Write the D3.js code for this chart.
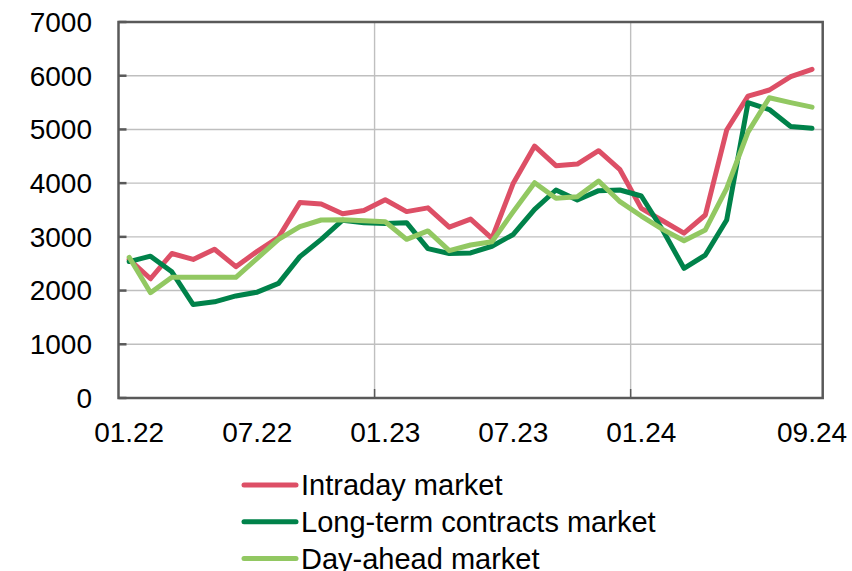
<!DOCTYPE html>
<html lang="en">
<head>
<meta charset="utf-8">
<title>Electricity prices by market</title>
<script src="https://d3js.org/d3.v7.min.js"></script>
<style>
	body {
		margin: 0;
		background: #fff;
		font-family: 'Liberation Sans', Arial, sans-serif;
	}
	.ticklabel {
		font-size: 28px;
		fill: #000;
	}
	.legendlabel {
		font-size: 29px;
		fill: #000;
	}
</style>
</head>
<body>
<div id="my_dataviz"></div>

<script>

// months 01.22 .. 09.24
var months = ["01.22","02.22","03.22","04.22","05.22","06.22","07.22","08.22","09.22","10.22","11.22","12.22",
              "01.23","02.23","03.23","04.23","05.23","06.23","07.23","08.23","09.23","10.23","11.23","12.23",
              "01.24","02.24","03.24","04.24","05.24","06.24","07.24","08.24","09.24"];

var xLabels = ["01.22", "07.22", "01.23", "07.23", "01.24", "09.24"];
var yTicks = [0, 1000, 2000, 3000, 4000, 5000, 6000, 7000];

var intraday = [2580, 2220, 2690, 2580, 2770, 2445, 2730, 2990, 3640, 3610, 3430, 3490,
                3690, 3470, 3540, 3180, 3330, 2970, 4000, 4690, 4325, 4356, 4604, 4250,
                3530, 3300, 3070, 3407, 4989, 5620, 5734, 5982, 6119];

var longTerm = [2540, 2640, 2350, 1740, 1790, 1900, 1970, 2134, 2631, 2954, 3310, 3264,
                3250, 3264, 2780, 2690, 2700, 2825, 3045, 3513, 3872, 3686, 3860, 3872,
                3761, 3128, 2414, 2662, 3314, 5498, 5370, 5055, 5021];

var dayAhead = [2620, 1961, 2247, 2247, 2247, 2247, 2600, 2954, 3189, 3314, 3320, 3300,
                3282, 2954, 3110, 2743, 2848, 2910, 3470, 4008, 3718, 3748, 4040, 3655,
                3388, 3140, 2929, 3128, 3904, 4950, 5590, 5498, 5415];

var seriesNames = ["Intraday market", "Long-term contracts market", "Day-ahead market"];
var seriesColours = ["#dd4f66", "#00824a", "#92c862"];
var seriesValues = [intraday, longTerm, dayAhead];

// plot box
var width = 852, height = 571;
var plot = {left: 118.5, right: 822.7, top: 22, bottom: 398};

var svg = d3.select("#my_dataviz")
  .append("svg")
    .attr("width", width)
    .attr("height", height);

// category axis, points sit in the middle of each band
var x = d3.scaleBand()
  .domain(months)
  .range([plot.left, plot.right]);

var y = d3.scaleLinear()
  .domain([0, 7000])
  .range([plot.bottom, plot.top]);

function xc(m) { return x(m) + x.bandwidth() / 2; }

// horizontal gridlines
svg.append("g")
  .selectAll("line")
  .data(yTicks.filter(function(d) { return d > 0 && d < 7000; }))
  .enter()
  .append("line")
    .attr("x1", plot.left)
    .attr("x2", plot.right)
    .attr("y1", function(d) { return y(d); })
    .attr("y2", function(d) { return y(d); })
    .attr("stroke", "#bfbfbf")
    .attr("stroke-width", 1.4);

// vertical gridlines at the start of each year
var yearStarts = ["01.23", "01.24"];
svg.append("g")
  .selectAll("line")
  .data(yearStarts)
  .enter()
  .append("line")
    .attr("x1", function(d) { return x(d); })
    .attr("x2", function(d) { return x(d); })
    .attr("y1", plot.top)
    .attr("y2", plot.bottom)
    .attr("stroke", "#bfbfbf")
    .attr("stroke-width", 1.4);

// lines
var line = d3.line()
  .x(function(d, i) { return xc(months[i]); })
  .y(function(d) { return y(d); });

svg.append("g")
  .selectAll("path")
  .data(seriesValues)
  .enter()
  .append("path")
    .attr("d", line)
    .attr("fill", "none")
    .attr("stroke", function(d, i) { return seriesColours[i]; })
    .attr("stroke-width", 5)
    .attr("stroke-linejoin", "round")
    .attr("stroke-linecap", "round");

// plot frame
svg.append("rect")
  .attr("x", plot.left)
  .attr("y", plot.top)
  .attr("width", plot.right - plot.left)
  .attr("height", plot.bottom - plot.top)
  .attr("fill", "none")
  .attr("stroke", "#595959")
  .attr("stroke-width", 2.5);

// inward ticks on the y axis
svg.append("g")
  .selectAll("line")
  .data(yTicks)
  .enter()
  .append("line")
    .attr("x1", plot.left)
    .attr("x2", plot.left + 8)
    .attr("y1", function(d) { return y(d); })
    .attr("y2", function(d) { return y(d); })
    .attr("stroke", "#595959")
    .attr("stroke-width", 2.5);

// inward ticks on the x axis
svg.append("g")
  .selectAll("line")
  .data(yearStarts)
  .enter()
  .append("line")
    .attr("x1", function(d) { return x(d); })
    .attr("x2", function(d) { return x(d); })
    .attr("y1", plot.bottom)
    .attr("y2", plot.bottom - 9)
    .attr("stroke", "#595959")
    .attr("stroke-width", 1.5);

// y labels
svg.append("g")
  .selectAll("text")
  .data(yTicks)
  .enter()
  .append("text")
    .attr("class", "ticklabel")
    .attr("text-anchor", "end")
    .attr("x", 92)
    .attr("y", function(d) { return y(d); })
    .attr("dy", "0.35em")
    .text(function(d) { return d; });

// x labels
svg.append("g")
  .selectAll("text")
  .data(xLabels)
  .enter()
  .append("text")
    .attr("class", "ticklabel")
    .attr("text-anchor", "middle")
    .attr("x", function(d) { return xc(d); })
    .attr("y", 442)
    .text(function(d) { return d; });

// legend
var legend = svg.append("g")
  .selectAll("g")
  .data(seriesNames)
  .enter()
  .append("g")
    .attr("transform", function(d, i) { return "translate(0," + (485 + i * 36.7) + ")"; });

legend.append("line")
  .attr("x1", 244)
  .attr("x2", 296)
  .attr("y1", 0)
  .attr("y2", 0)
  .attr("stroke", function(d, i) { return seriesColours[i]; })
  .attr("stroke-width", 5)
  .attr("stroke-linecap", "round");

legend.append("text")
  .attr("class", "legendlabel")
  .attr("x", 301)
  .attr("y", 0)
  .attr("dy", "0.36em")
  .text(function(d) { return d; });

</script>
</body>
</html>
